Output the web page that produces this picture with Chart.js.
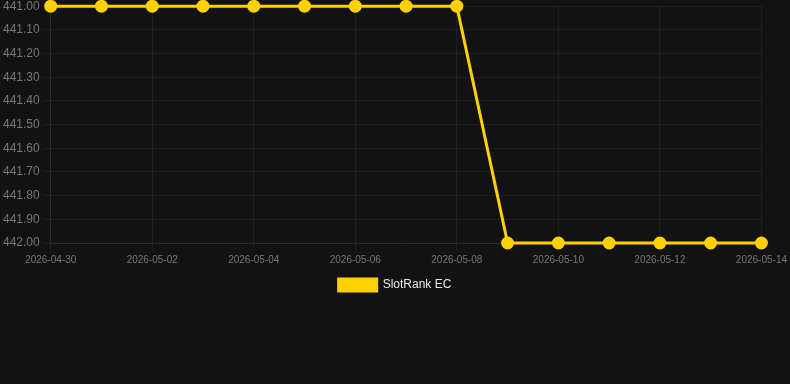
<!DOCTYPE html>
<html>
<head>
<meta charset="utf-8">
<script src="https://cdn.jsdelivr.net/npm/chart.js@4"></script>
<style>
  html, body { margin: 0; padding: 0; background: #121212; overflow: hidden; }
  #wrap { width: 790px; height: 305px; position: relative; margin-top: -4px; }
</style>
</head>
<body>
<div id="wrap"><canvas id="rankChart"></canvas></div>
<script>
// Tage und Rang-Werte
const dates = ['2026-04-30','2026-05-01','2026-05-02','2026-05-03','2026-05-04','2026-05-05','2026-05-06','2026-05-07','2026-05-08','2026-05-09','2026-05-10','2026-05-11','2026-05-12','2026-05-13','2026-05-14'];
const rankValues = [441, 441, 441, 441, 441, 441, 441, 441, 441, 442, 442, 442, 442, 442, 442];
const seriesName = 'SlotRank EC';

const ctx = document.getElementById('rankChart');
new Chart(ctx, {
    type: 'line',
    data: {
        labels: dates,
        datasets: [{
            label: seriesName,
            data: rankValues,
            borderColor: '#FFD100',
            backgroundColor: '#FFD100',
            borderWidth: 3,
            pointRadius: 5,
            pointBackgroundColor: '#FFD100',
            pointBorderColor: '#FFD100',
            tension: 0,
            clip: false
        }]
    },
    options: {
        responsive: true,
        maintainAspectRatio: false,
        animation: false,
        plugins: {
            legend: {
                position: 'bottom',
                labels: {
                    color: '#e6e6e6',
                    font: { family: 'Liberation Sans, Arial, sans-serif', size: 12 },
                    boxWidth: 38,
                    boxHeight: 12
                }
            },
            tooltip: { enabled: false }
        },
        scales: {
            x: {
                grid: { color: 'rgba(255,255,255,0.05)' },
                border: { color: 'rgba(255,255,255,0.05)' },
                // nur jeden zweiten Tag beschriften
                afterBuildTicks: function(scale) {
                    scale.ticks = scale.ticks.filter((t, i) => i % 2 === 0);
                },
                ticks: {
                    color: '#777',
                    font: { family: 'Liberation Sans, Arial, sans-serif', size: 10 },
                    maxRotation: 0,
                    autoSkip: false
                }
            },
            y: {
                reverse: true,
                min: 441,
                max: 442,
                grid: { color: 'rgba(255,255,255,0.05)' },
                border: { color: 'rgba(255,255,255,0.05)' },
                ticks: {
                    stepSize: 0.1,
                    color: '#777',
                    font: { family: 'Liberation Sans, Arial, sans-serif', size: 12 },
                    callback: function(v) { return v.toFixed(2); }
                }
            }
        }
    }
});
</script>
</body>
</html>
